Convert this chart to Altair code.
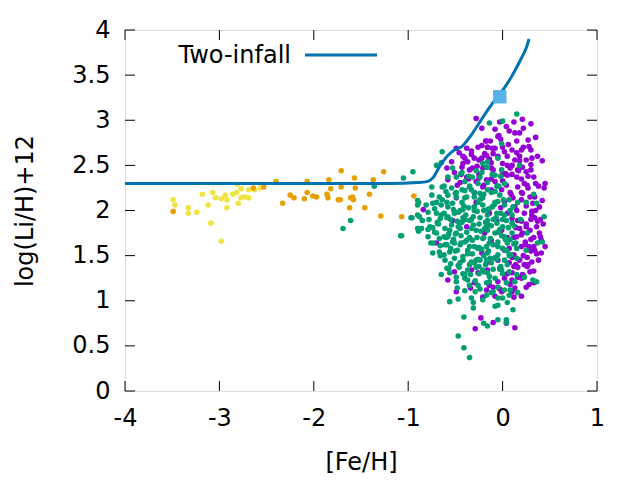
import altair as alt
import pandas as pd

# ---- data ----
purple_x = [0.21, 0.30, 0.12, 0.04, -0.03, 0.18, 0.35, 0.15, -0.04, -0.02, -0.13, -0.17, 0.28, 0.30, 0.20, 0.15, 0.31, 0.25, 0.42, 0.10,
            0.02, -0.11, -0.16, 0.05, 0.13, 0.21, 0.25, 0.08, 0.00, 0.33, 0.15, 0.05, 0.26, 0.16, 0.21, 0.29, -0.12, -0.08, -0.12, -0.01,
            0.04, 0.11, -0.28, -0.22, -0.18, -0.16, -0.26, -0.38, -0.49, -0.46, -0.37, -0.30, -0.22, -0.17, -0.54, -0.43, -0.32, -0.21, -0.59, -0.51,
            -0.38, -0.28, -0.17, -0.58, -0.48, -0.35, -0.21, -0.49, -0.84, -0.70, -0.53, -0.33, -0.58, -0.51, -0.17, -0.26, -0.22, -0.19, -0.28, -0.38,
            0.39, 0.31, 0.36, 0.39, 0.41, 0.41, 0.34, 0.31, 0.23, 0.29, 0.21, 0.16, 0.10, 0.02, -0.05, -0.14, 0.16, 0.10, 0.20, 0.21,
            0.25, 0.16, 0.23, 0.15, 0.13, 0.05, -0.06, -0.14, -0.01, -0.12, 0.02, -0.08, 0.07, -0.03, -0.16, -0.49, -0.34, -0.17, -0.23, -0.29,
            -0.10, 0.04, 0.13, -0.01, 0.12, 0.13, -0.03, -0.21, 0.05, 0.10, 0.20, 0.25, 0.28, 0.22, 0.18, 0.05, -0.05, 0.12, 0.08, -0.10,
            -0.05, 0.00, 0.18, 0.20, 0.35, 0.30, -0.25, -0.30, -0.35, -0.12, 0.15, 0.25, 0.33, 0.38, 0.27, 0.10, -0.08, 0.20, 0.25, 0.30,
            -0.08, 0.07, 0.22, -0.22, -0.08, 0.06, 0.22, -0.42, -0.27, -0.12, 0.10, 0.30, -0.45, -0.20, 0.00, 0.23, 0.38, 0.02, 0.20, 0.32,
            0.42, 0.10, 0.20, 0.34, 0.05, 0.20, 0.30, 0.40, 0.12, 0.26, 0.36, 0.10, 0.22, 0.33, -0.30, 0.28, -0.40, -0.33, -0.14, 0.03,
            0.17, 0.27, 0.09, -0.02, 0.31, 0.24, 0.14, 0.37, 0.44, -0.44, -0.25, -0.10, 0.18, 0.33, 0.07, 0.26, -0.19, 0.12, 0.40, 0.29,
            -0.42, -0.33, -0.25, -0.36, -0.15, -0.05, 0.13, 0.27, 0.37, 0.45, 0.35, 0.43, 0.30, 0.20, 0.33, 0.08, -0.10, 0.18, 0.24, 0.14,
            0.27, 0.34, 0.16, 0.00, 0.45]
purple_y = [3.01, 2.96, 2.98, 2.93, 2.98, 2.86, 2.81, 2.77, 2.83, 2.79, 2.77, 2.77, 2.71, 2.67, 2.67, 2.64, 2.58, 2.56, 2.55, 2.67,
            2.65, 2.69, 2.70, 2.60, 2.56, 2.48, 2.43, 2.47, 2.52, 2.37, 2.37, 2.39, 2.28, 2.26, 2.19, 2.15, 2.47, 2.32, 2.23, 2.23,
            2.28, 2.14, 3.02, 2.91, 2.77, 2.70, 2.70, 2.69, 2.69, 2.64, 2.54, 2.58, 2.58, 2.61, 2.54, 2.48, 2.47, 2.47, 2.47, 2.42,
            2.37, 2.32, 2.34, 2.34, 2.28, 2.26, 2.26, 2.14, 2.01, 1.64, 1.89, 1.34, 1.23, 1.32, 1.42, 1.31, 1.53, 1.75, 2.09, 1.82,
            2.04, 1.95, 1.82, 1.75, 1.67, 1.53, 1.56, 1.43, 1.40, 1.32, 1.29, 1.26, 1.23, 1.25, 1.21, 1.17, 1.37, 1.48, 1.60, 1.75,
            1.82, 1.89, 1.97, 1.71, 2.04, 1.97, 1.89, 1.97, 1.78, 1.67, 1.56, 1.47, 1.42, 1.36, 1.34, 1.10, 1.14, 1.12, 0.81, 0.69,
            0.76, 0.75, 0.70, 1.10, 1.04, 1.14, 1.13, 1.04, 2.50, 2.40, 2.35, 2.05, 1.60, 1.50, 1.45, 1.30, 1.45, 1.70, 2.20, 2.45,
            2.60, 2.70, 2.60, 2.20, 2.30, 2.45, 2.40, 2.20, 2.45, 2.35, 2.00, 1.85, 1.70, 1.45, 1.40, 1.10, 1.05, 1.05, 1.15, 1.90,
            2.90, 2.88, 2.91, 2.72, 2.69, 2.73, 2.70, 2.52, 2.49, 2.53, 2.50, 2.51, 2.31, 2.28, 2.33, 2.30, 2.27, 2.10, 2.12, 2.08,
            2.11, 1.91, 1.88, 1.92, 1.70, 1.73, 1.68, 1.71, 1.51, 1.48, 1.52, 1.31, 1.28, 1.33, 1.20, 1.18, 2.58, 2.62, 2.57, 2.41,
            2.44, 2.38, 2.18, 2.03, 1.99, 1.62, 1.81, 1.88, 2.25, 2.40, 2.36, 2.63, 2.55, 1.60, 1.58, 1.38, 2.63, 1.38, 1.90, 1.78,
            2.60, 2.66, 2.56, 2.35, 2.55, 2.82, 2.86, 2.78, 2.60, 2.30, 2.00, 1.85, 1.55, 1.25, 1.20, 1.18, 1.15, 1.80, 1.65, 1.40,
            2.25, 2.15, 2.45, 2.40, 1.60]

green_x = [0.15, -0.14, 0.00, -0.01, -0.05, 0.18, -0.01, -0.02, -0.08, -0.16, -0.17, 0.02, 0.33, 0.16, 0.07, -0.03, -0.08, 0.36, 0.25,
           -0.64, -0.70, -0.65, -0.53, -0.43, -0.32, -0.24, -0.21, -0.16, -0.58, -0.49, -0.40, -0.26, -0.75, -0.64, -0.54, -0.43, -0.33, -0.24, -0.16,
           -0.75, -0.67, -0.58, -0.49, -0.40, -0.30, -0.21, -0.89, -0.70, -0.59, -0.43, -0.26,
           -0.90, -0.74, -0.65, -0.58, -0.70, -0.79, -0.88, -0.85, -0.86, -0.79, -0.69, -0.59, -0.51, -0.42, -0.30, -0.21, -0.72, -0.61, -0.54, -0.43,
           -0.35, -0.24, -0.16, -0.79, -0.67, -0.58, -0.49, -0.38, -0.28, -0.19, -0.59, -0.51, -0.40, -0.32, -0.21, -0.74, -0.67, -0.56, -0.48, -0.37,
           -0.26, -0.17, -0.61, -0.51, -0.42, -0.33, -0.24, -0.17, -0.59, -0.46, -0.37, -0.28, -0.21, -0.65, -0.49, -0.40, -0.49, -0.35, -0.26, -0.17,
           0.44, 0.42, 0.37, 0.32, 0.36, -0.08, 0.02, 0.11, -0.16, -0.06, 0.02, -0.16, -0.06, 0.00, 0.10, -0.16, -0.08, 0.02, 0.10, 0.26,
           -0.14, -0.05, 0.05, 0.15, 0.25, -0.16, -0.05, 0.02, 0.15, -0.12, -0.01, 0.07, -0.16, 0.15, -0.08, 0.04, 0.13, -0.14, -0.05, 0.23,
           -0.48, -0.56, -0.47, -0.31, -0.31, -0.33, -0.29, -0.24, -0.21, -0.17, -0.10, -0.05, 0.00, -0.08, -0.05, 0.05, 0.11, 0.02, 0.07, 0.16,
           -0.41, -0.20, -0.16, -0.05, 0.04, 0.04, -0.47, -0.41, -0.35,
           -1.69, -1.61, -1.36, -1.05, -0.95, -1.08, -0.97, -0.90, -0.90, -0.90, -0.89, -1.07, -0.96,
           -0.40, -0.35, -0.30, -0.25, -0.20, -0.10, -0.05, 0.00, -0.45, -0.55, -0.60, -0.50, -0.35, -0.15, -0.10, 0.05, -0.30, -0.45, -0.20, -0.05,
           0.10, 0.05, -0.25, -0.40, -0.65, -0.70, -0.78, -0.38, -0.12, -0.28,
           -0.72, -0.62, -0.52, -0.47, -0.36, -0.27, -0.14, -0.02, 0.08, -0.66, -0.48, -0.42, -0.33, -0.18, -0.07, 0.04,
           -0.74, -0.56, -0.47, -0.33, -0.23, -0.12, -0.03, 0.06, -0.62, -0.52, -0.44, -0.27, -0.13, -0.01, 0.08,
           -0.66, -0.55, -0.45, -0.35, -0.25, -0.10, 0.00, -0.62, -0.42, -0.32, -0.20, -0.08, 0.09, -0.55, -0.47, -0.30, -0.18, -0.02,
           -0.60, -0.50, -0.40, -0.30, -0.20, -0.08, -0.44, -0.36, -0.22, -0.11, -0.56, -0.34, -0.20, 0.00, -0.40, -0.12, 0.08,
           -0.69, -0.57, -0.39, -0.15, -0.04, -0.53, -0.31, -0.09, 0.12, -0.76, -0.64, -0.44, -0.26, -0.06, -0.37, -0.23, 0.03,
           -0.58, -0.45, -0.31, -0.17, -0.05, 0.03, -0.61, -0.50, -0.38, -0.22, -0.13, -0.03, -0.68, -0.53, -0.41, -0.24, -0.11, 0.01,
           -0.35, -0.49, -0.62, -0.28, -0.16, -0.04, -0.45, -0.37, -0.25, -0.14, -0.06, 0.07, -0.73, -0.66, -0.57, -0.42, -0.29, 0.12,
           0.14, 0.19, -0.81, -0.77]
green_y = [3.07, 2.97, 2.99, 2.74, 2.58, 2.50, 2.45, 2.38, 2.39, 2.54, 2.48, 2.30, 2.18, 2.09, 2.12, 2.17, 2.09, 2.08, 2.09,
           2.65, 2.50, 2.53, 2.47, 2.42, 2.37, 2.37, 2.52, 2.48, 2.37, 2.37, 2.32, 2.30, 2.26, 2.26, 2.25, 2.23, 2.23, 2.19, 2.23,
           2.17, 2.15, 2.17, 2.15, 2.14, 2.15, 2.14, 2.09, 2.09, 2.09, 2.09, 2.09,
           2.06, 2.08, 2.06, 2.04, 1.97, 1.98, 1.93, 1.89, 1.80, 1.79, 1.87, 1.92, 1.97, 2.01, 2.04, 2.06, 1.76, 1.80, 1.84, 1.87,
           1.89, 1.92, 1.95, 1.71, 1.69, 1.71, 1.75, 1.76, 1.78, 1.80, 1.62, 1.64, 1.65, 1.67, 1.69, 1.53, 1.54, 1.54, 1.56, 1.56,
           1.58, 1.60, 1.45, 1.47, 1.45, 1.43, 1.45, 1.45, 1.36, 1.37, 1.34, 1.37, 1.34, 1.29, 1.26, 1.29, 1.21, 1.17, 1.17, 1.20,
           1.93, 1.65, 1.64, 1.23, 1.21, 2.08, 2.06, 2.04, 2.01, 1.97, 1.95, 1.89, 1.86, 1.82, 1.86, 1.78, 1.75, 1.71, 1.75, 1.75,
           1.64, 1.60, 1.64, 1.58, 1.56, 1.53, 1.51, 1.45, 1.47, 1.42, 1.34, 1.32, 1.31, 1.29, 1.25, 1.20, 1.21, 1.21, 1.15, 1.26,
           1.14, 0.99, 1.02, 0.98, 0.92, 1.03, 1.10, 1.13, 1.01, 1.06, 1.10, 1.03, 1.03, 0.94, 0.95, 0.98, 0.90, 1.12, 1.06, 1.09,
           0.82, 0.75, 0.72, 0.79, 0.79, 0.76, 0.61, 0.48, 0.37,
           1.80, 1.89, 2.27, 2.36, 2.43, 1.72, 1.92, 2.11, 1.95, 1.80, 1.77, 1.72, 1.92,
           1.90, 1.70, 1.60, 1.85, 1.70, 1.90, 1.65, 1.90, 1.80, 1.90, 1.70, 1.55, 1.40, 1.55, 1.35, 1.40, 2.00, 2.00, 2.00, 2.10,
           1.95, 1.55, 1.30, 1.25, 1.95, 1.75, 1.90, 2.15, 2.20, 1.45,
           2.02, 1.97, 2.01, 1.98, 2.03, 1.99, 2.02, 1.97, 2.00, 1.91, 1.88, 1.92, 1.90, 1.87, 1.92, 1.89,
           1.81, 1.78, 1.82, 1.80, 1.77, 1.83, 1.79, 1.81, 1.71, 1.68, 1.72, 1.70, 1.69, 1.72, 1.68,
           1.61, 1.58, 1.62, 1.60, 1.59, 1.62, 1.58, 1.51, 1.49, 1.52, 1.50, 1.48, 1.51, 1.41, 1.39, 1.42, 1.40, 1.38,
           2.21, 2.19, 2.22, 2.20, 2.18, 2.21, 2.41, 2.38, 2.42, 2.40, 1.31, 1.29, 1.32, 1.30, 1.11, 1.09, 1.12,
           1.86, 1.74, 1.95, 1.84, 1.76, 1.65, 1.84, 2.06, 1.63, 1.64, 2.12, 1.64, 1.46, 2.27, 1.23, 2.13, 1.56,
           1.93, 1.86, 1.93, 1.83, 1.76, 1.68, 1.62, 1.74, 1.67, 1.57, 1.47, 1.35, 1.85, 2.08, 2.05, 2.12, 2.04, 2.12,
           2.27, 2.20, 2.27, 2.44, 2.31, 2.27, 1.42, 1.52, 1.38, 1.27, 1.46, 1.50, 1.64, 1.50, 1.36, 1.30, 1.22, 1.83,
           1.64, 1.90, 2.06, 1.82]

yellow_x = [-3.49, -3.47, -3.33, -3.33, -3.24, -3.18, -3.12, -3.09, -3.07, -3.04, -2.98, -2.98, -2.94, -2.92, -2.92, -2.86, -2.82, -2.81,
            -2.80, -2.77, -2.77, -2.73, -2.69, -2.69, -2.63, -2.57]
yellow_y = [2.12, 2.06, 2.03, 1.97, 1.98, 2.18, 2.06, 1.86, 2.20, 2.14, 1.66, 2.13, 2.17, 2.12, 2.03, 2.18, 2.20, 2.29,
            2.08, 2.14, 2.24, 2.15, 2.23, 2.14, 2.23, 2.25]

orange_x = [-3.49, -2.64, -2.53, -2.40, -2.33, -2.25, -2.21, -2.10, -2.07, -2.07, -2.01, -1.97, -1.86, -1.85, -1.84, -1.82, -1.74, -1.72,
            -1.71, -1.71, -1.62, -1.61, -1.59, -1.58, -1.57, -1.56, -1.46, -1.41, -1.37, -1.29, -1.26, -1.07, -0.94]
orange_y = [1.99, 2.25, 2.26, 2.32, 2.08, 2.17, 2.14, 2.13, 2.32, 2.20, 2.16, 2.15, 2.18, 2.14, 2.34, 2.24, 2.12, 2.12,
            2.26, 2.44, 2.03, 2.14, 2.15, 2.12, 2.36, 2.25, 2.03, 2.18, 2.34, 1.94, 2.43, 1.93, 2.16]

model_x = [-4.0, -3.0, -2.0, -1.2, -0.9, -0.8, -0.74, -0.66, -0.58, -0.51, -0.43, -0.35, -0.26, -0.14, -0.07, 0.0, 0.07, 0.13, 0.2, 0.25, 0.28]
model_y = [2.30, 2.30, 2.30, 2.30, 2.31, 2.32, 2.36, 2.50, 2.61, 2.67, 2.71, 2.81, 2.95, 3.14, 3.24, 3.33, 3.44, 3.55, 3.69, 3.80, 3.90]

sun_x = [-0.03]
sun_y = [3.26]

x_ticks = [-4, -3, -2, -1, 0, 1]
y_ticks = [0, 0.5, 1, 1.5, 2, 2.5, 3, 3.5, 4]

W, H = 472, 361
FONT = "DejaVu Sans"
FS = 24

pts = pd.concat([
    pd.DataFrame({"x": purple_x, "y": purple_y, "g": "purple"}),
    pd.DataFrame({"x": green_x, "y": green_y, "g": "green"}),
    pd.DataFrame({"x": yellow_x, "y": yellow_y, "g": "yellow"}),
    pd.DataFrame({"x": orange_x, "y": orange_y, "g": "orange"}),
], ignore_index=True)
pts["idx"] = range(len(pts))

xs = alt.Scale(domain=[-4, 1], nice=False, zero=False)
ys = alt.Scale(domain=[0, 4], nice=False, zero=False)

common = dict(ticks=False, domain=False, grid=False, labelFontSize=FS, titleFontSize=FS,
              titleFontWeight="normal", labelFont=FONT, titleFont=FONT,
              labelColor="black", titleColor="black", labelExpr="'' + datum.value")
xaxis = alt.Axis(values=x_ticks, title="[Fe/H]", labelPadding=15, titlePadding=20, labelFlush=False, **common)
yaxis = alt.Axis(values=y_ticks, title="log(Li/H)+12", labelPadding=15, titlePadding=34, labelFlush=False, **common)

points = alt.Chart(pts).mark_circle(size=31, opacity=1).encode(
    x=alt.X("x:Q", scale=xs, axis=xaxis),
    y=alt.Y("y:Q", scale=ys, axis=yaxis),
    color=alt.Color("g:N", scale=alt.Scale(domain=["purple", "green", "yellow", "orange"],
                                           range=["#9400d3", "#009e73", "#f0e442", "#e69f00"]), legend=None),
    order=alt.Order("idx:Q"),
)

model = alt.Chart(pd.DataFrame({"x": model_x, "y": model_y})).mark_line(
    color="#0072b2", strokeWidth=3, interpolate="monotone").encode(
    x=alt.X("x:Q", scale=xs), y=alt.Y("y:Q", scale=ys))

sun = alt.Chart(pd.DataFrame({"x": sun_x, "y": sun_y})).mark_square(
    size=180, color="#56b4e9", opacity=1).encode(x=alt.X("x:Q", scale=xs), y=alt.Y("y:Q", scale=ys))

xt = pd.DataFrame({"x": x_ticks})
yt = pd.DataFrame({"y": y_ticks})
tick_bottom = alt.Chart(xt).mark_rule(color="black", strokeWidth=1).encode(
    x=alt.X("x:Q", scale=xs), y=alt.value(H), y2=alt.value(H - 10))
tick_top = alt.Chart(xt).mark_rule(color="black", strokeWidth=1).encode(
    x=alt.X("x:Q", scale=xs), y=alt.value(0), y2=alt.value(10))
tick_left = alt.Chart(yt).mark_rule(color="black", strokeWidth=1).encode(
    y=alt.Y("y:Q", scale=ys), x=alt.value(0), x2=alt.value(10))
tick_right = alt.Chart(yt).mark_rule(color="black", strokeWidth=1).encode(
    y=alt.Y("y:Q", scale=ys), x=alt.value(W - 10), x2=alt.value(W))

leg_text = alt.Chart(pd.DataFrame({"t": ["Two-infall"]})).mark_text(
    align="right", baseline="middle", fontSize=FS, font=FONT, color="black").encode(
    text="t:N", x=alt.value(166), y=alt.value(26))
leg_line = alt.Chart(pd.DataFrame({"t": ["Two-infall"]})).mark_rule(color="#0072b2", strokeWidth=3).encode(
    x=alt.value(180), x2=alt.value(252), y=alt.value(25))

chart = alt.layer(points, model, sun, tick_bottom, tick_top, tick_left, tick_right, leg_text, leg_line).properties(
    width=W, height=H,
    autosize=alt.AutoSizeParams(type="none"),
    padding={"left": 125, "top": 30, "right": 43, "bottom": 89},
).configure_view(stroke="black", strokeWidth=1).configure(background="white")

chart.save("out.html", embed_options={"renderer": "svg", "actions": False})
